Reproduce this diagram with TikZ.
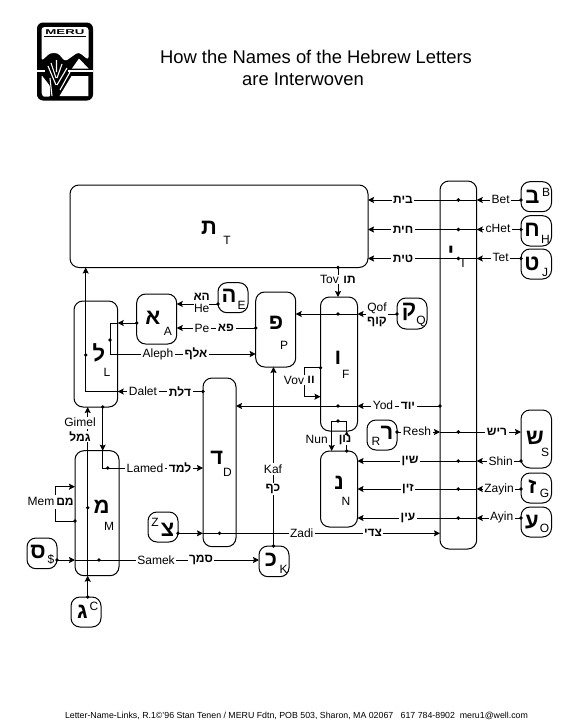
\documentclass[tikz,border=0pt]{standalone}
\usepackage{fontspec}
\setmainfont{Liberation Sans}
\newfontfamily\hebf[Script=Hebrew]{Liberation Sans}
\TeXXeTstate=1
\usetikzlibrary{arrows.meta}
\newcommand\hb[1]{{\hebf\bfseries\beginR #1\endR}}
\newcommand\lfont{\fontsize{12}{14}\selectfont}
\newcommand\gfont{\hebf\bfseries\fontsize{22}{24}\selectfont}
\newcommand\bx[5]{%
  \pgfmathsetmacro\cxx{(#2+#4)/2}\pgfmathsetmacro\cyy{(#3+#5)/2}%
  \pgfmathsetmacro\wxx{#4-#2}\pgfmathsetmacro\hxx{#5-#3}%
  \node[lbox,minimum width=\wxx pt,minimum height=\hxx pt] (#1) at (\cxx,\cyy) {};}
\newcommand\gl[4]{\node[glyph] (g#1) at (#2,#3) {\beginR #4\endR};}
\newcommand\ltr[4]{\node[ltrn] (l#1) at (#2,#3) {#4};}
\tikzset{
  lbox/.style={draw,rectangle,rounded corners=9pt,inner sep=0pt,outer sep=0pt,line width=1pt},
  glyph/.style={inner sep=0pt,font=\gfont},
  ltrn/.style={inner sep=0pt,font=\lfont},
  lab/.style={fill=white,inner sep=1.5pt,font=\lfont},
  arr/.style={line width=1pt,-{Stealth[length=6pt,width=6pt,inset=1pt]}},
  pt/.style={fill=black},
}
\begin{document}
\begin{tikzpicture}[x=1pt,y=-1pt]
\useasboundingbox (0,0) rectangle (576,720);
% ---------- logo
\fill[black,rounded corners=6pt] (37,22.5) rectangle (93,100.5);
\fill[white,rounded corners=3pt] (41.5,27) -- (88.5,27) -- (88.5,60) -- (78.5,52) -- (65,61.5) -- (58,53) -- (50,53) -- (41.5,61) -- cycle;
\fill[white] (72,68.5) -- (79,58.5) -- (88.5,68.5) -- cycle;
\fill[white] (37,70.3) rectangle (45,72);
\fill[white] (68,70.3) rectangle (93,72);
\fill[white,rounded corners=1pt] (41.5,75) -- (50,86) -- (50,96.5) -- (43,96.5) -- (41.5,93) -- cycle;
\fill[white] (71.5,76) -- (88.3,76) -- (88.3,96) -- (59.5,96) -- cycle;
\draw[white,line width=1.1pt] (56,85) -- (48,66) (56,78) -- (51,63) (57,85) -- (67,68) (57,78) -- (62,64) (56.5,72) -- (56.5,60) (52,96) -- (50,78) (60,90) -- (70,72);
\draw[black,line width=.7pt] (44,36.8) -- (86,36.8);
\node[inner sep=0pt,font=\bfseries\fontsize{7}{8}\selectfont,xscale=1.9] (meru) at (65,32.3) {MERU};
% ---------- title and footer
\node[inner sep=0pt,font=\fontsize{18.4}{20}\selectfont] (title1) at (316,57) {How the Names of the Hebrew Letters};
\node[inner sep=0pt,font=\fontsize{18.4}{20}\selectfont] (title2) at (303,79) {are Interwoven};
\node[inner sep=0pt,font=\fontsize{8.8}{10}\selectfont] (foot) at (296.5,715.5) {Letter-Name-Links, R.1©'96 Stan Tenen / MERU Fdtn, POB 503, Sharon, MA 02067\ \ \ 617 784-8902\ \ meru1@well.com};
% ---------- boxes
\bx{T}{70}{185}{368}{267.5}
\bx{I}{440}{181}{476.7}{549}
\bx{B}{521}{181.7}{551.5}{211.7}
\bx{H}{521}{215.7}{551.5}{246}
\bx{J}{521}{249}{551.5}{279}
\bx{S}{521}{410}{551.5}{468}
\bx{G}{521}{473}{551.5}{503}
\bx{O}{521}{507}{551.5}{537}
\bx{R}{367}{420}{397}{450}
\bx{N}{320.5}{451}{357.5}{527}
\bx{F}{320.5}{297}{357.5}{431}
\bx{Q}{397}{298}{427}{329}
\bx{P}{255.7}{292}{295.7}{367}
\bx{A}{136.7}{294}{176.7}{344}
\bx{E}{218}{282.7}{248}{312.7}
\bx{L}{74}{301}{117.7}{407}
\bx{D}{203}{378}{236}{546.7}
\bx{M}{75}{450.7}{119}{575.7}
\bx{Z}{148}{512}{178}{542}
\bx{Dol}{27}{538}{57}{568.7}
\bx{K}{259}{546}{289}{576.7}
\bx{C}{71}{597}{101}{627}
% ---------- letters
\gl{T}{209}{228}{ת} \ltr{T}{227}{240.5}{T}
\gl{I}{451}{253}{י} \ltr{I}{463}{263}{I}
\gl{B}{532.5}{197}{ב} \ltr{B}{546}{192.7}{B}
\gl{H}{532}{230}{ח} \ltr{H}{545.5}{239}{H}
\gl{J}{532}{264}{ט} \ltr{J}{545}{272}{J}
\gl{Q}{409}{312}{ק} \ltr{Q}{421}{321.5}{Q}
\gl{E}{229}{296}{ה} \ltr{E}{241.5}{305}{E}
\gl{A}{153}{317.7}{א} \ltr{A}{168}{331}{A}
\gl{L}{99}{353}{ל} \ltr{L}{107}{372}{L}
\gl{P}{276}{323}{פ} \ltr{P}{284}{345.7}{P}
\gl{F}{338}{358}{ו} \ltr{F}{345.7}{374}{F}
\gl{D}{216.7}{457.7}{ד} \ltr{D}{227.5}{472}{D}
\gl{N}{339}{483}{נ} \ltr{N}{346}{501.7}{N}
\gl{M}{101.7}{506.7}{מ} \ltr{M}{109}{526.5}{M}
\gl{Z}{167.5}{530}{צ} \ltr{Z}{155}{522.7}{Z}
\gl{Dol}{38}{551.7}{ס} \ltr{Dol}{51}{559}{\$}
\gl{K}{271}{560}{כ} \ltr{K}{283.5}{569}{K}
\gl{C}{82.5}{612}{ג} \ltr{C}{94}{606.7}{C}
\gl{S}{535}{438}{ש} \ltr{S}{545}{452}{S}
\gl{G}{532.5}{487}{ז} \ltr{G}{544.5}{493}{G}
\gl{O}{532}{521.7}{ע} \ltr{O}{544.5}{528.5}{O}
\gl{R}{387}{433}{ר} \ltr{R}{376}{441}{R}
% ---------- rows and columns
\coordinate (rBet) at (0,200);
\coordinate (rHet) at (0,229.5);
\coordinate (rTet) at (0,258.5);
\coordinate (rQof) at (0,314);
\coordinate (rYod) at (0,406);
\coordinate (rNun) at (0,421);
\coordinate (rResh) at (0,432);
\coordinate (rShin) at (0,461);
\coordinate (rZay) at (0,489);
\coordinate (rAyin) at (0,518);
\coordinate (rZadi) at (0,533.3);
\coordinate (rSam) at (0,560);
\coordinate (rDal) at (0,391.5);
\coordinate (rLd) at (0,355);
\coordinate (rAlf) at (0,354);
\coordinate (rPe) at (0,328);
\coordinate (rHe) at (0,304);
\coordinate (rAL) at (0,323);
\coordinate (rAd) at (0,340);
\coordinate (rLam) at (0,468);
\coordinate (rVa) at (0,367.7);
\coordinate (rVb) at (0,396.7);
\coordinate (rMa) at (0,521);
\coordinate (rMb) at (0,486.7);
\coordinate (rMd) at (0,507.7);
\coordinate (cF) at (338,0);
\coordinate (cV) at (304,0);
\coordinate (cNa) at (331.7,0);
\coordinate (cNb) at (346.7,0);
\coordinate (cKaf) at (273.5,0);
\coordinate (cGim) at (87.7,0);
\coordinate (cLam) at (102.7,0);
\coordinate (cLd) at (107.7,0);
\coordinate (cMem) at (55.7,0);
\coordinate (cLt) at (85.7,0);
\coordinate (cAl) at (110,0);
\coordinate (cMd) at (99,0);
% ---------- connectors
\draw[arr] (B.west|-rBet) -- (I.east|-rBet);
\draw[arr] (I.east|-rBet) -- (T.east|-rBet);
\draw[arr] (H.west|-rHet) -- (I.east|-rHet);
\draw[arr] (I.east|-rHet) -- (T.east|-rHet);
\draw[arr] (J.west|-rTet) -- (I.east|-rTet);
\draw[arr] (I.east|-rTet) -- (T.east|-rTet);
\draw[arr] (T.south-|cF) -- (F.north-|cF);
\draw[arr] (Q.west|-rQof) -- (F.east|-rQof);
\draw[arr] (F.east|-rQof) -- (P.east|-rQof);
\draw[arr] (F.west|-rVa) -- (cV|-rVa) -- (cV|-rVb) -- (F.west|-rVb);
\draw[arr] (I.west|-rYod) -- (F.east|-rYod);
\draw[arr] (F.east|-rYod) -- (D.east|-rYod);
\draw[arr] (N.north-|cNb) -- (F.south-|cNb);
\draw[arr] (F.south-|cNb) -- (cNb|-rNun) -- (cNa|-rNun) -- (N.north-|cNa);
\draw[arr] (R.east|-rResh) -- (I.west|-rResh);
\draw[arr] (I.west|-rResh) -- (S.west|-rResh);
\draw[arr] (S.west|-rShin) -- (I.east|-rShin);
\draw[arr] (I.east|-rShin) -- (N.east|-rShin);
\draw[arr] (G.west|-rZay) -- (I.east|-rZay);
\draw[arr] (I.east|-rZay) -- (N.east|-rZay);
\draw[arr] (O.west|-rAyin) -- (I.east|-rAyin);
\draw[arr] (I.east|-rAyin) -- (N.east|-rAyin);
\draw[arr] (Z.east|-rZadi) -- (D.west|-rZadi);
\draw[arr] (D.west|-rZadi) -- (I.west|-rZadi);
\draw[arr] (Dol.east|-rSam) -- (M.west|-rSam);
\draw[arr] (M.west|-rSam) -- (K.west|-rSam);
\draw[arr] (K.north-|cKaf) -- (P.south-|cKaf);
\draw[arr] (C.north-|cGim) -- (M.south-|cGim);
\draw[arr] (M.south-|cGim) -- (L.south-|cGim);
\draw[arr] (L.south-|cLam) -- (M.north-|cLam);
\draw[arr] (M.north-|cLam) -- (cLam|-rLam) -- (D.west|-rLam);
\draw[arr] (M.west|-rMa) -- (cMem|-rMa) -- (cMem|-rMb) -- (M.west|-rMb);
\draw[arr] (D.west|-rDal) -- (L.east|-rDal);
\draw[arr] (L.east|-rDal) -- (cLt|-rDal) -- (T.south-|cLt);
\draw[arr] (A.west|-rAL) -- (L.east|-rAL);
\draw[arr] (L.east|-rAL) -- (cAl|-rAL) -- (cAl|-rAlf) -- (P.west|-rAlf);
\draw[arr] (E.west|-rHe) -- (A.east|-rHe);
\draw[arr] (P.west|-rPe) -- (A.east|-rPe);
% ---------- dots
\foreach \p in {B.west|-rBet,I.center|-rBet,H.west|-rHet,I.center|-rHet,J.west|-rTet,I.center|-rTet,
  T.south-|cF,Q.west|-rQof,cF|-rQof,F.west|-rVa,I.west|-rYod,cF|-rYod,N.north-|cNb,cF|-rNun,
  R.east|-rResh,I.center|-rResh,S.west|-rShin,I.center|-rShin,G.west|-rZay,I.center|-rZay,
  O.west|-rAyin,I.center|-rAyin,Z.east|-rZadi,D.center|-rZadi,Dol.east|-rSam,cMd|-rSam,
  K.north-|cKaf,C.north-|cGim,cGim|-rMd,L.south-|cLam,cLd|-rLam,M.west|-rMa,D.west|-rDal,
  cLt|-rLd,A.west|-rAL,cAl|-rAd,E.west|-rHe,P.west|-rPe}
  {\fill[pt] (\p) circle[radius=1.9];}
% ---------- labels
\node[lab] (tBet) at (500.7,199.5) {Bet};
\node[lab] (hBet) at (403,200) {\hb{בית}};
\node[lab] (tHet) at (498,228.5) {cHet};
\node[lab] (hHet) at (403,229.5) {\hb{חית}};
\node[lab] (tTet) at (500.7,257.5) {Tet};
\node[lab] (hTet) at (403,258.5) {\hb{טית}};
\node[lab,inner sep=.5pt] (tTov) at (329.5,279.5) {Tov};
\node[lab,inner sep=.5pt] (hTov) at (349.5,279.5) {\hb{תו}};
\node[lab] (tQof) at (377,308) {Qof};
\node[lab] (hQof) at (377,322) {\hb{קוף}};
\node[lab] (hHe) at (201.7,297) {\hb{הא}};
\node[lab,inner sep=0pt] (tHe) at (201.7,308) {He};
\node[lab] (tPe) at (202,328) {Pe};
\node[lab] (hPe) at (226,328) {\hb{פא}};
\node[lab] (tAl) at (158,354) {Aleph};
\node[lab] (hAl) at (196,354) {\hb{אלף}};
\node[lab] (tDal) at (143,391) {Dalet};
\node[lab] (hDal) at (180,391.5) {\hb{דלת}};
\node[lab,inner sep=.5pt] (tVov) at (294,380) {Vov};
\node[lab,inner sep=.5pt] (hVov) at (311,380) {\hb{וו}};
\node[lab] (tYod) at (383,405.5) {Yod};
\node[lab] (hYod) at (408,406) {\hb{יוד}};
\node[lab,inner sep=0pt] (tNun) at (316.7,439) {Nun};
\node[lab,inner sep=.5pt] (hNun) at (345,440) {\hb{נון}};
\node[lab] (tResh) at (417,431) {Resh};
\node[lab] (hResh) at (497,432) {\hb{ריש}};
\node[lab] (tShin) at (500.7,461) {Shin};
\node[lab] (hShin) at (410,461) {\hb{שין}};
\node[lab] (tZay) at (499,489) {Zayin};
\node[lab] (hZay) at (408,489) {\hb{זין}};
\node[lab] (tAyin) at (501.7,517) {Ayin};
\node[lab] (hAyin) at (408,518) {\hb{עין}};
\node[lab] (tZadi) at (301.7,533) {Zadi};
\node[lab] (hZadi) at (373,533.3) {\hb{צדי}};
\node[lab] (tLam) at (145,468) {Lamed};
\node[lab] (hLam) at (180,468) {\hb{למד}};
\node[lab,inner sep=3pt] (tMem) at (41,501.7) {Mem};
\node[lab,inner sep=.5pt] (hMem) at (65,501.7) {\hb{מם}};
\node[lab] (tGim) at (80,422.7) {Gimel};
\node[lab,inner sep=.5pt] (hGim) at (80,436.7) {\hb{גמל}};
\node[lab] (tSam) at (156,560) {Samek};
\node[lab] (hSam) at (201,560) {\hb{סמך}};
\node[lab] (tKaf) at (273,469) {Kaf};
\node[lab] (hKaf) at (273,489) {\hb{כף}};
\end{tikzpicture}
\end{document}
